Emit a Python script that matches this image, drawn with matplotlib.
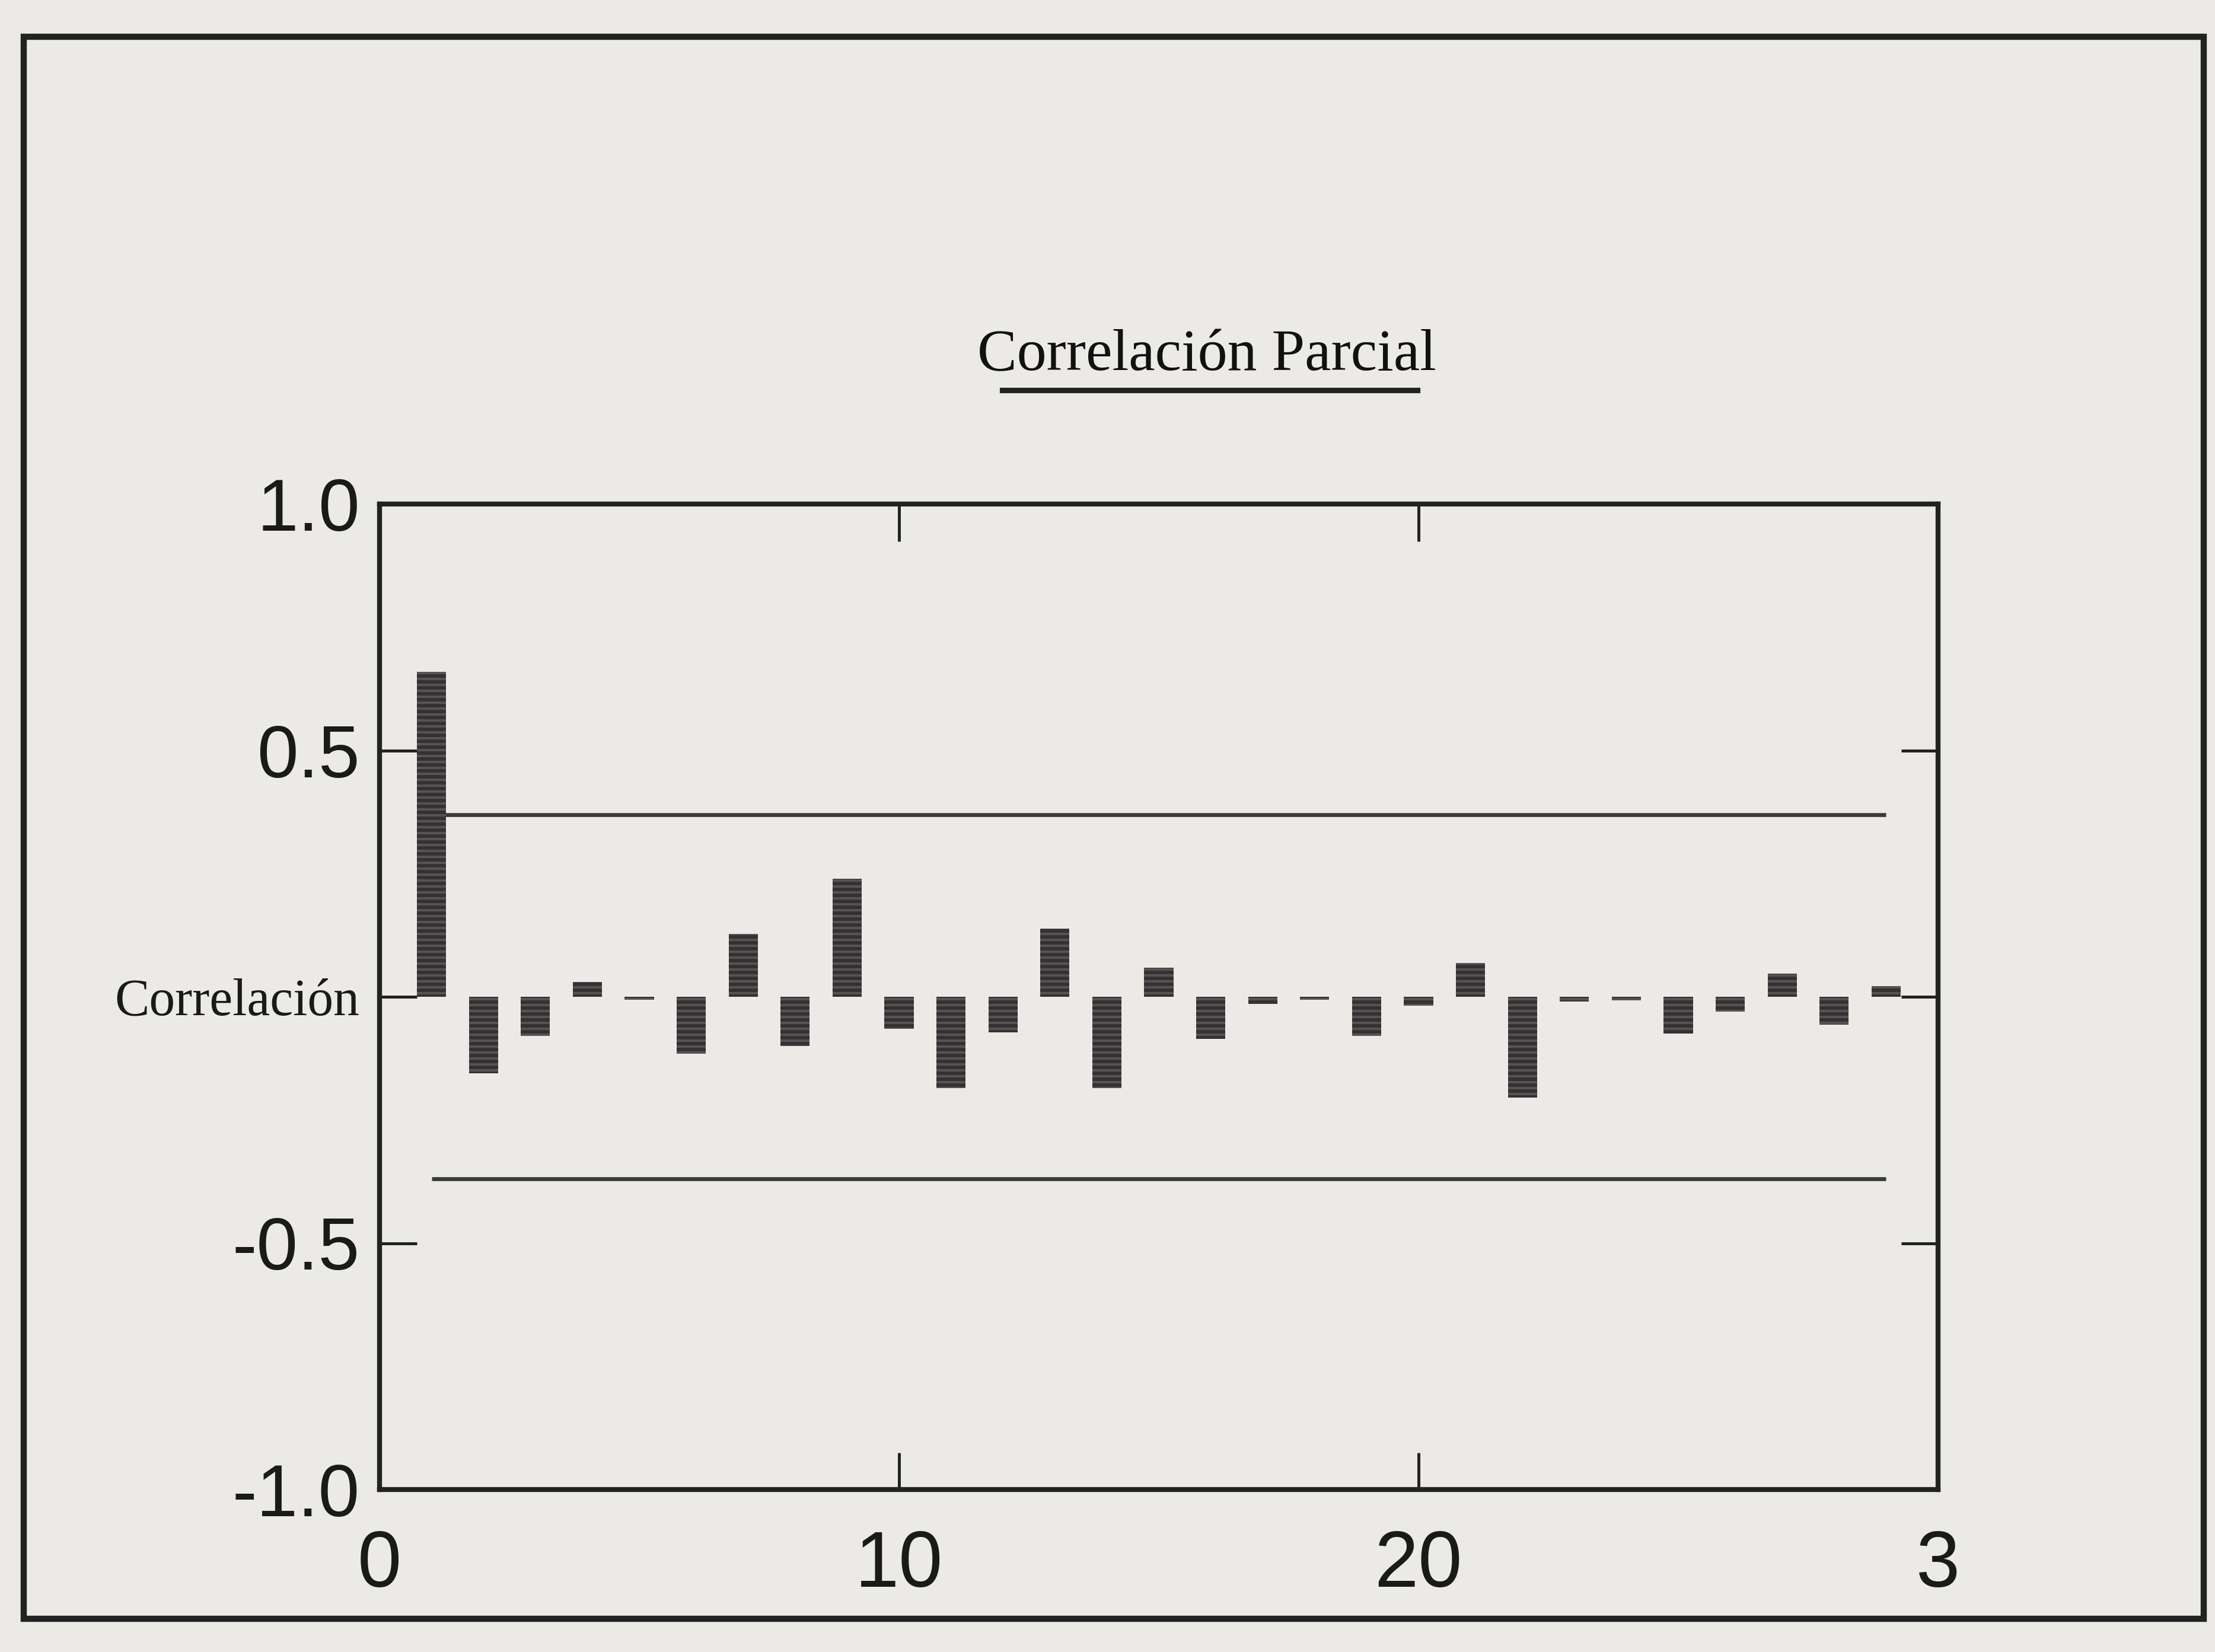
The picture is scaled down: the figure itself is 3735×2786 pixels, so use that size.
import matplotlib
matplotlib.use("Agg")
import matplotlib.pyplot as plt
from matplotlib.patches import Rectangle
from matplotlib.lines import Line2D

# ---- data ----
lags = list(range(1, 30))
pacf = [0.66, -0.155, -0.08, 0.03, -0.006, -0.115, 0.127, -0.10, 0.24, -0.065,
        -0.185, -0.072, 0.138, -0.185, 0.059, -0.086, -0.015, -0.006, -0.08, -0.018,
        0.069, -0.205, -0.01, -0.007, -0.075, -0.03, 0.047, -0.057, 0.022]
conf_limit = 0.37
conf_span = [1, 29]
x_ticks = [0, 10, 20, 30]
x_ticklabels = ["0", "10", "20", "3"]
y_ticks = [-1.0, -0.5, 0.0, 0.5, 1.0]
y_ticklabels = ["-1.0", "-0.5", "Correlación", "0.5", "1.0"]
title = "Correlación Parcial"

W, H = 3735, 2786
bg = "#eceae7"
fig = plt.figure(figsize=(W / 300, H / 300), dpi=300)
fig.patch.set_facecolor(bg)

ax = fig.add_axes([640 / W, 1 - 2512 / H, (3268 - 640) / W, (2512 - 850) / H])
ax.set_facecolor(bg)

ax.bar(lags, pacf, width=0.56, color="#333131", linewidth=0, zorder=3)
ax.bar(lags, pacf, width=0.56, fill=False, hatch="-----", edgecolor="#555353",
       linewidth=0, zorder=4)
ax.hlines([conf_limit, -conf_limit], conf_span[0], conf_span[1],
          color="#3a3a3a", lw=1.6, zorder=2)

ax.set_xlim(0, 30)
ax.set_ylim(-1, 1)
ax.set_xticks(x_ticks)
ax.set_xticklabels(x_ticklabels)
ax.set_yticks(y_ticks)
ax.set_yticklabels(y_ticklabels)

ax.tick_params(axis="both", direction="in", length=15, width=1.2, color="#222222",
               top=True, right=True)
ax.tick_params(axis="x", labelsize=32, pad=16)
ax.tick_params(axis="y", labelsize=30, pad=8)
for lab in ax.get_xticklabels() + ax.get_yticklabels():
    lab.set_fontfamily(["Liberation Sans", "DejaVu Sans"])
    lab.set_color("#1a1a1a")
for lab in ax.get_yticklabels():
    if lab.get_text() == "Correlación":
        lab.set_fontfamily(["Liberation Serif", "DejaVu Serif"])
        lab.set_fontsize(21)

for sp in ax.spines.values():
    sp.set_linewidth(2.0)
    sp.set_color("#222222")

# title with underline
fig.text(2035 / W, 1 - 600 / H, title, family=["Liberation Serif", "DejaVu Serif"],
         fontsize=24, ha="center", va="center", color="#111111")
fig.add_artist(Line2D([1690 / W, 2390 / W], [1 - 658 / H] * 2,
                      transform=fig.transFigure, color="#222222", lw=2.2))

# outer page frame
fig.add_artist(Rectangle((40 / W, 1 - 2730 / H), (3716 - 40) / W, (2730 - 62) / H,
                         transform=fig.transFigure, fill=False, lw=2.5,
                         edgecolor="#222222"))

fig.savefig("out.png", dpi=300, facecolor=bg)
